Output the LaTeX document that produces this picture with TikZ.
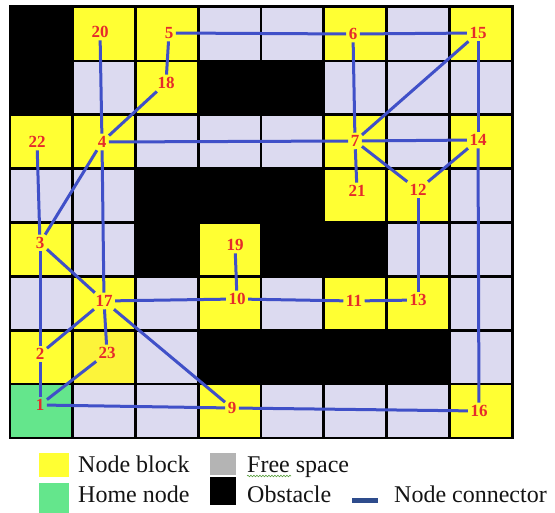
\documentclass[tikz,border=0pt]{standalone}
\usepackage{fontspec}
\setmainfont{Liberation Serif}
\usetikzlibrary{decorations.pathmorphing}
\definecolor{cyel}{HTML}{FFFF33}
\definecolor{cyeldark}{HTML}{FCF43A}
\definecolor{clav}{HTML}{DCDAF0}
\definecolor{cgreen}{HTML}{64E68C}
\definecolor{cgray}{HTML}{B4B4B4}
\definecolor{cblue}{HTML}{4050C8}
\definecolor{cdash}{HTML}{2E4C8C}
\definecolor{lred}{HTML}{E52B2B}
\definecolor{squig}{HTML}{5CA040}
\begin{document}
\begin{tikzpicture}[x=1pt,y=-1pt,
  lbl/.style={text=lred, font=\fontsize{17}{17}\selectfont\bfseries, inner sep=2.5pt},
  conn/.style={draw=cblue, line width=3pt},
  legtext/.style={anchor=base west, inner sep=0pt, text=black!92, font=\fontsize{24}{28}\selectfont}]
\useasboundingbox (0,0) rectangle (555,513);
% grid background (black lines and obstacles)
\fill[black] (8.5,5.5) rectangle (513.5,439.5);
% yellow node blocks
\foreach \c/\r in {2/1,3/1,6/1,8/1,3/2,1/3,2/3,6/3,8/3,6/4,7/4,1/5,4/5,2/6,4/6,6/6,7/6,1/7,4/8,8/8}
  \fill[cyel] ({10+62.75*(\c-1)+1.3},{7+53.875*(\r-1)+1.3}) rectangle ({10+62.75*\c-1.3},{7+53.875*\r-1.3});
\foreach \c/\r in {2/7}
  \fill[cyeldark] ({10+62.75*(\c-1)+1.3},{7+53.875*(\r-1)+1.3}) rectangle ({10+62.75*\c-1.3},{7+53.875*\r-1.3});
% home node
\foreach \c/\r in {1/8}
  \fill[cgreen] ({10+62.75*(\c-1)+1.3},{7+53.875*(\r-1)+1.3}) rectangle ({10+62.75*\c-1.3},{7+53.875*\r-1.3});
% free space
\foreach \c/\r in {4/1,5/1,7/1,2/2,6/2,7/2,8/2,3/3,4/3,5/3,7/3,1/4,2/4,8/4,2/5,7/5,8/5,1/6,3/6,5/6,8/6,3/7,8/7,2/8,3/8,5/8,6/8,7/8}
  \fill[clav] ({10+62.75*(\c-1)+1.3},{7+53.875*(\r-1)+1.3}) rectangle ({10+62.75*\c-1.3},{7+53.875*\r-1.3});
% node labels
\node[lbl] (n20) at (100,32) {20};
\node[lbl] (n5) at (169,33) {5};
\node[lbl] (n18) at (166,83) {18};
\node[lbl] (n22) at (37,142) {22};
\node[lbl] (n4) at (102,142) {4};
\node[lbl] (n6) at (353,34) {6};
\node[lbl] (n15) at (478,33) {15};
\node[lbl] (n7) at (355,141) {7};
\node[lbl] (n14) at (478,140) {14};
\node[lbl] (n21) at (357,191) {21};
\node[lbl] (n12) at (418,190) {12};
\node[lbl] (n3) at (40,243) {3};
\node[lbl] (n19) at (235,245) {19};
\node[lbl] (n17) at (104,301) {17};
\node[lbl] (n10) at (237,299) {10};
\node[lbl] (n2) at (40,354) {2};
\node[lbl] (n23) at (107,353) {23};
\node[lbl] (n1) at (40,405) {1};
\node[lbl] (n9) at (232,408) {9};
\node[lbl] (n11) at (354,301) {11};
\node[lbl] (n13) at (418,300) {13};
\node[lbl] (n16) at (479,411) {16};
% connectors
\foreach \a/\b in {5/6,6/15,5/18,18/4,20/4,4/7,4/17,4/3,22/3,6/7,15/7,15/14,7/14,7/21,7/12,14/12,14/16,12/13,3/2,3/17,2/1,17/2,17/23,23/1,17/10,17/9,19/10,10/11,11/13,1/9,9/16}
  \draw[conn] (n\a) -- (n\b);
% legend
\fill[cyel] (39,453) rectangle (69,477);
\fill[cgreen] (39,483) rectangle (69,513);
\fill[cgray] (210,453) rectangle (236,475);
\fill[black] (210,477) rectangle (236,505);
\fill[cdash] (352,498) rectangle (378,503);
\node[legtext] (lnb) at (78,472) {Node block};
\node[legtext] (lhn) at (78,502) {Home node};
\node[legtext] (lfs) at (247,472) {Free space};
\node[legtext] (lob) at (247,502) {Obstacle};
\node[legtext] (lnc) at (394,502) {Node connector};
\draw[squig, line width=0.6pt, decorate, decoration={snake, amplitude=0.8pt, segment length=3pt}] (247,476) -- (291,476);
\end{tikzpicture}
\end{document}
